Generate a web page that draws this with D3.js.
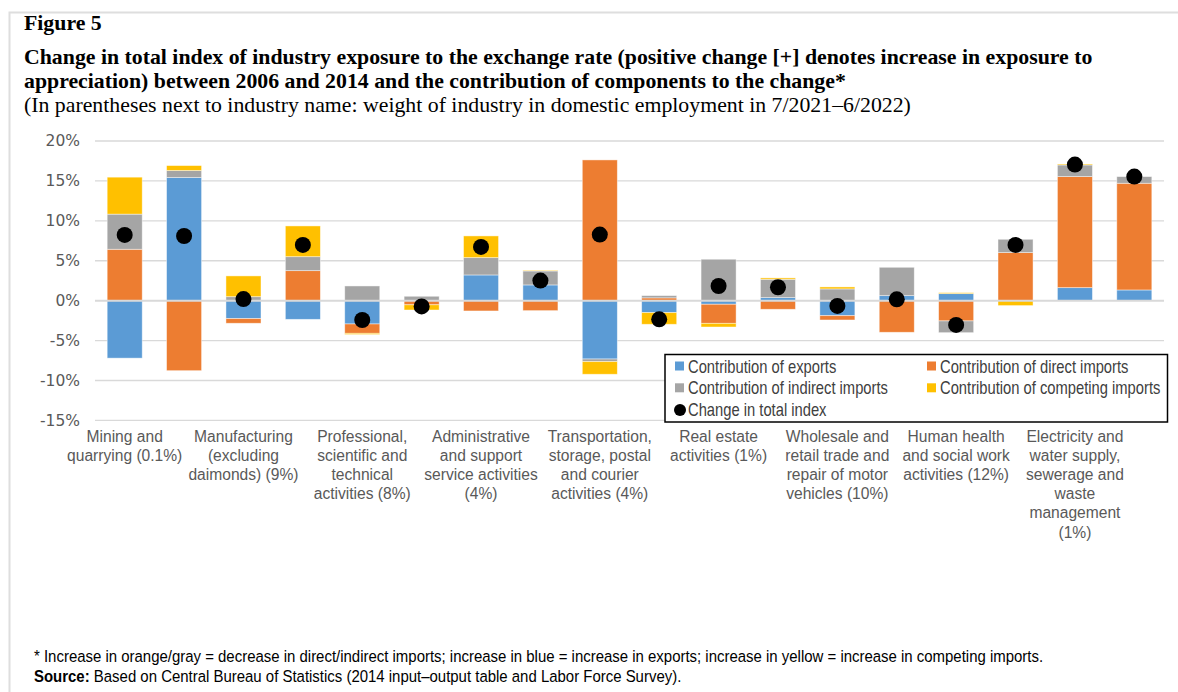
<!DOCTYPE html>
<html>
<head>
<meta charset="utf-8">
<script src="https://cdn.jsdelivr.net/npm/d3@7"></script>
<style>
  html, body { margin: 0; padding: 0; background: #fff; }
  svg { display: block; }
</style>
</head>
<body>
<svg id="chart" width="1178" height="692"></svg>
<script>
// Industries: each one has two bars; the label sits under the first bar of each pair
const industryLabels = [
  ["Mining and", "quarrying (0.1%)"],
  ["Manufacturing", "(excluding", "daimonds) (9%)"],
  ["Professional,", "scientific and", "technical", "activities (8%)"],
  ["Administrative", "and support", "service activities", "(4%)"],
  ["Transportation,", "storage, postal", "and courier", "activities (4%)"],
  ["Real estate", "activities (1%)"],
  ["Wholesale and", "retail trade and", "repair of motor", "vehicles (10%)"],
  ["Human health", "and social work", "activities (12%)"],
  ["Electricity and", "water supply,", "sewerage and", "waste", "management", "(1%)"]
];

// Percentage-point contributions, 18 bars
const exportsContrib   = [-7.20, 15.42, -2.25, -2.34, -2.92,  0.00,  3.22,  1.97, -7.31, -1.50, -0.45,  0.38, -1.88,  0.63,  0.88,  0.00,  1.63,  1.34];
const directImports    = [ 6.44, -8.77, -0.58,  3.76, -1.17, -0.52, -1.29, -1.25, 17.63,  0.35, -2.39, -1.08, -0.54, -3.96, -2.54,  6.02, 13.91, 13.37];
const indirectImports  = [ 4.40,  0.88,  0.50,  1.75,  1.84,  0.55,  2.17,  1.75, -0.33,  0.28,  5.19,  2.30,  1.47,  3.55, -1.47,  1.67,  1.46,  0.83];
const competingImports = [ 4.63,  0.62,  2.60,  3.85, -0.15, -0.65,  2.72,  0.08, -1.58, -1.46, -0.46,  0.17,  0.25,  0.00,  0.12, -0.62,  0.12,  0.00];
const totalIndex       = [ 8.23,  8.10,  0.20,  6.98, -2.42, -0.72,  6.73,  2.51,  8.28, -2.34,  1.84,  1.68, -0.66,  0.17, -3.04,  6.98, 17.05, 15.54];

const seriesKeys   = ["exports", "direct", "indirect", "competing"];
const seriesNames  = ["Contribution of exports", "Contribution of direct imports",
                      "Contribution of indirect imports", "Contribution of competing imports"];
const seriesColors = ["#5B9BD5", "#ED7D31", "#A5A5A5", "#FFC000"];
const totalName    = "Change in total index";

const yTicks = [-15, -10, -5, 0, 5, 10, 15, 20];

const svg = d3.select("#chart");

// outer frame (top and left edges visible)
svg.append("path")
  .attr("d", "M9.5,692 V12.5 H1178")
  .attr("fill", "none").attr("stroke", "#dedede").attr("stroke-width", 2);

// heading
const serif = "'Liberation Serif', 'Times New Roman', serif";
const heading = [
  { t: "Figure 5", b: true, y: 30 },
  { t: "Change in total index of industry exposure to the exchange rate (positive change [+] denotes increase in exposure to", b: true, y: 64 },
  { t: "appreciation) between 2006 and 2014 and the contribution of components to the change*", b: true, y: 88 },
  { t: "(In parentheses next to industry name: weight of industry in domestic employment in 7/2021\u20136/2022)", b: false, y: 112 }
];
svg.append("g").selectAll("text").data(heading).join("text")
  .attr("x", 24)
  .attr("y", d => d.y)
  .attr("font-family", serif)
  .attr("font-size", 21.8)
  .attr("font-weight", d => d.b ? "bold" : "normal")
  .attr("fill", "#000")
  .text(d => d.t);

// plot geometry
const plot = { left: 95, right: 1164, top: 141, bottom: 420.4 };
const idx = d3.range(exportsContrib.length);

const x = d3.scaleBand().domain(idx).range([plot.left, plot.right]).paddingInner(0.41).paddingOuter(0.205);
const y = d3.scaleLinear().domain([-15, 20]).range([plot.bottom, plot.top]);

// gridlines
svg.append("g").selectAll("line").data(yTicks.filter(v => v !== 0)).join("line")
  .attr("x1", plot.left).attr("x2", plot.right)
  .attr("y1", d => y(d)).attr("y2", d => y(d))
  .attr("stroke", "#d9d9d9").attr("stroke-width", 1.3);

// y axis labels
const yAxis = d3.axisLeft(y).tickValues(yTicks).tickSize(0).tickPadding(0)
  .tickFormat(d => d + "%");
const yg = svg.append("g").attr("transform", "translate(80,0)").call(yAxis);
yg.select(".domain").remove();
yg.selectAll("text")
  .attr("font-family", "'DejaVu Sans', Verdana, sans-serif")
  .attr("font-size", 15.5)
  .attr("fill", "#595959");

// stacked bars
const rows = idx.map(i => ({
  i,
  exports: exportsContrib[i],
  direct: directImports[i],
  indirect: indirectImports[i],
  competing: competingImports[i]
}));
const stacked = d3.stack().keys(seriesKeys).offset(d3.stackOffsetDiverging)(rows);

svg.append("g").selectAll("g").data(stacked).join("g")
  .attr("fill", (d, k) => seriesColors[k])
  .selectAll("rect").data(d => d.filter(s => s[1] - s[0] !== 0)).join("rect")
  .attr("x", d => x(d.data.i))
  .attr("width", x.bandwidth())
  .attr("y", d => y(Math.max(d[0], d[1])))
  .attr("height", d => Math.abs(y(d[0]) - y(d[1])))
  .attr("stroke", "#ffffff").attr("stroke-opacity", 0.55).attr("stroke-width", 0.8);

// zero axis line over the bars
svg.append("line")
  .attr("x1", plot.left).attr("x2", plot.right)
  .attr("y1", y(0)).attr("y2", y(0))
  .attr("stroke", "#d9d9d9").attr("stroke-width", 2);

// total-index markers
svg.append("g").selectAll("circle").data(idx).join("circle")
  .attr("cx", i => x(i) + x.bandwidth() / 2)
  .attr("cy", i => y(totalIndex[i]))
  .attr("r", 8)
  .attr("fill", "#000");

// category labels under the first bar of each pair
const sans = "'Liberation Sans', Arial, sans-serif";
const catG = svg.append("g");
industryLabels.forEach((lines, j) => {
  const cx = x(j * 2) + x.bandwidth() / 2;
  const t = catG.append("text")
    .attr("text-anchor", "middle")
    .attr("font-family", sans)
    .attr("font-size", 15.6)
    .attr("fill", "#595959");
  t.selectAll("tspan").data(lines).join("tspan")
    .attr("x", cx)
    .attr("y", (d, k) => 441.5 + k * 19.2)
    .text(d => d);
});

// legend (condensed sans, drawn with a horizontal squeeze)
const lg = svg.append("g");
lg.append("rect")
  .attr("x", 665).attr("y", 354.5).attr("width", 502.5).attr("height", 67.5)
  .attr("fill", "#fff").attr("stroke", "#000").attr("stroke-width", 1.5);

const legendItems = [
  { name: seriesNames[0], color: seriesColors[0], col: 0, row: 0, type: "sq" },
  { name: seriesNames[1], color: seriesColors[1], col: 1, row: 0, type: "sq" },
  { name: seriesNames[2], color: seriesColors[2], col: 0, row: 1, type: "sq" },
  { name: seriesNames[3], color: seriesColors[3], col: 1, row: 1, type: "sq" },
  { name: totalName, color: "#000", col: 0, row: 2, type: "dot" }
];
const colX = [675, 927];
const item = lg.selectAll("g.item").data(legendItems).join("g")
  .attr("class", "item")
  .attr("transform", d => `translate(${colX[d.col]},${366 + d.row * 21.8})`);
item.filter(d => d.type === "sq").append("rect")
  .attr("x", 0).attr("y", -4.5).attr("width", 9).attr("height", 9)
  .attr("fill", d => d.color);
item.filter(d => d.type === "dot").append("circle")
  .attr("cx", 5).attr("cy", 0.5).attr("r", 6)
  .attr("fill", d => d.color);
item.append("g")
  .attr("transform", "translate(13,6.5) scale(0.82,1)")
  .append("text")
  .attr("font-family", sans)
  .attr("font-size", 18)
  .attr("fill", "#404040")
  .text(d => d.name);

// footnote and source
const foot = svg.append("g")
  .attr("transform", "translate(34,0) scale(0.88,1)")
  .attr("font-family", sans).attr("font-size", 17).attr("fill", "#000");
foot.append("text").attr("x", 0).attr("y", 662)
  .text("* Increase in orange/gray = decrease in direct/indirect imports; increase in blue = increase in exports; increase in yellow = increase in competing imports.");
const src = foot.append("text").attr("x", 0).attr("y", 682);
src.append("tspan").attr("font-weight", "bold").text("Source:");
src.append("tspan").text(" Based on Central Bureau of Statistics (2014 input\u2013output table and Labor Force Survey).");
</script>
</body>
</html>
